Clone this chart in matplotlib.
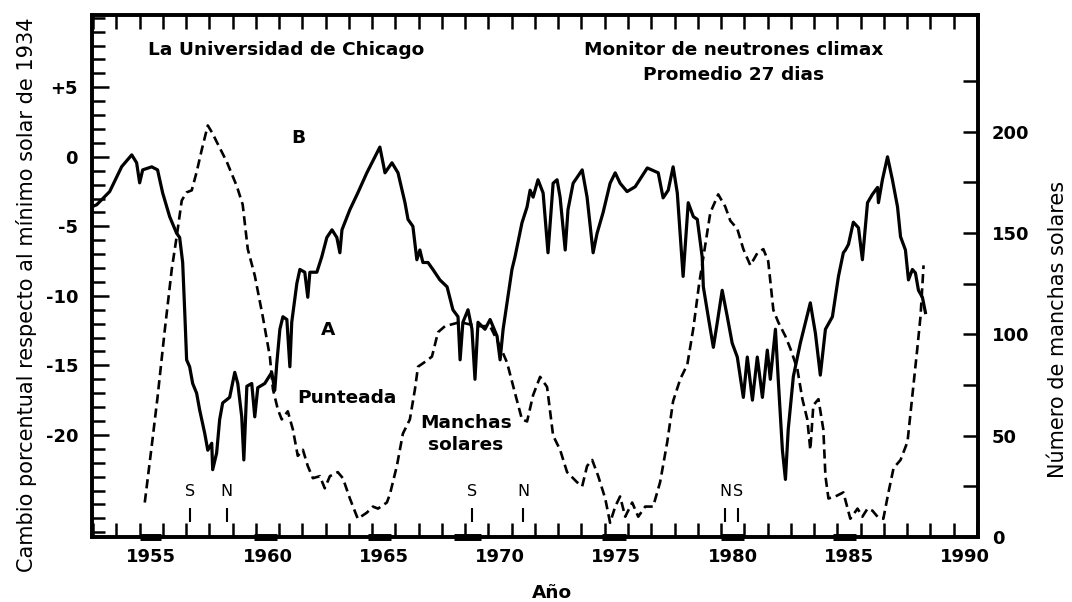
import matplotlib
matplotlib.use("Agg")
import matplotlib.pyplot as plt
import numpy as np

plt.rcParams['font.family'] = ['DejaVu Sans']

# Monitor de neutrones (curva A, eje izquierdo, %)
neutron_years = [1952.93, 1953.15, 1953.71, 1954.23, 1954.66, 1954.87, 1955.0, 1955.13, 1955.52, 1955.77,
                 1955.99, 1956.29, 1956.59, 1956.72, 1956.85, 1956.94, 1957.02, 1957.15, 1957.28, 1957.45,
                 1957.58, 1957.80, 1957.93, 1958.10, 1958.14, 1958.31, 1958.44, 1958.57, 1958.87, 1959.09,
                 1959.22, 1959.39, 1959.48, 1959.61, 1959.82, 1959.95, 1960.08, 1960.38, 1960.68, 1960.81,
                 1960.90, 1961.03, 1961.16, 1961.33, 1961.46, 1961.54, 1961.76, 1961.89, 1962.10, 1962.23,
                 1962.32, 1962.62, 1962.83, 1963.05, 1963.27, 1963.48, 1963.61, 1963.70, 1964.04, 1964.38,
                 1964.77, 1965.12, 1965.33, 1965.55, 1965.85, 1966.11, 1966.41, 1966.54, 1966.75, 1966.92,
                 1967.05, 1967.18, 1967.40, 1967.61, 1967.91, 1968.22, 1968.47, 1968.69, 1968.78, 1968.90,
                 1969.12, 1969.29, 1969.42, 1969.55, 1969.85, 1970.07, 1970.37, 1970.50, 1970.63, 1970.80,
                 1971.01, 1971.14, 1971.44, 1971.66, 1971.79, 1971.92, 1972.13, 1972.35, 1972.56, 1972.78,
                 1972.95, 1973.08, 1973.30, 1973.42, 1973.64, 1974.03, 1974.24, 1974.50, 1974.67, 1974.93,
                 1975.23, 1975.45, 1975.66, 1975.96, 1976.31, 1976.83, 1977.30, 1977.51, 1977.73, 1977.94,
                 1978.12, 1978.37, 1978.59, 1978.81, 1978.98, 1979.19, 1979.24, 1979.45, 1979.67, 1979.84,
                 1980.05, 1980.27, 1980.48, 1980.70, 1980.96, 1981.13, 1981.35, 1981.56, 1981.78, 1981.99,
                 1982.12, 1982.34, 1982.46, 1982.64, 1982.77, 1982.89, 1983.11, 1983.41, 1983.84, 1984.06,
                 1984.27, 1984.49, 1984.79, 1985.05, 1985.26, 1985.35, 1985.48, 1985.69, 1985.91, 1986.08,
                 1986.30, 1986.51, 1986.73, 1986.77, 1986.94, 1987.16, 1987.37, 1987.59, 1987.72, 1987.93,
                 1988.06, 1988.23, 1988.36, 1988.49, 1988.66, 1988.79]
neutron_pct = [-3.6, -3.45, -2.5, -0.7, 0.14, -0.43, -1.87, -0.94, -0.72, -0.94,
               -2.6, -4.3, -5.5, -5.8, -7.6, -11.2, -14.6, -15.1, -16.3, -17.0,
               -18.2, -19.9, -21.1, -20.6, -22.5, -21.3, -18.9, -17.7, -17.3, -15.5,
               -16.3, -18.7, -21.8, -16.5, -16.3, -18.7, -16.6, -16.3, -15.5, -16.8,
               -14.8, -12.4, -11.5, -11.7, -15.1, -11.9, -9.1, -8.1, -8.3, -10.1,
               -8.3, -8.3, -7.2, -5.8, -5.25, -5.8, -6.9, -5.25, -3.8, -2.6,
               -1.15, 0.0, 0.7, -1.15, -0.43, -1.15, -3.3, -4.5, -5.0, -7.4,
               -6.7, -7.6, -7.6, -8.1, -8.85, -9.35, -11.0, -11.5, -14.6, -11.9,
               -11.0, -12.4, -16.0, -11.9, -12.4, -11.7, -12.9, -14.6, -12.4, -10.5,
               -8.1, -7.2, -4.75, -3.6, -2.4, -2.9, -1.65, -2.6, -6.9, -1.9,
               -1.65, -2.9, -6.7, -3.8, -1.9, -0.94, -2.9, -6.9, -5.5, -4.0,
               -1.9, -1.15, -1.9, -2.5, -2.15, -0.8, -1.15, -2.95, -2.4, -0.72,
               -2.6, -8.6, -3.3, -4.3, -4.5, -7.2, -9.35, -11.5, -13.7, -11.9,
               -9.6, -11.5, -13.4, -14.4, -17.3, -14.4, -17.5, -14.4, -17.3, -13.9,
               -16.0, -12.4, -16.0, -21.1, -23.2, -19.6, -15.8, -13.4, -10.5, -12.7,
               -15.7, -12.4, -11.5, -8.6, -6.9, -6.7, -6.3, -4.7, -5.1, -7.4,
               -3.3, -2.7, -2.2, -3.3, -1.65, 0.0, -1.65, -3.6, -5.75, -6.7,
               -8.85, -8.1, -8.35, -9.6, -10.1, -11.2]

# Manchas solares (curva punteada, eje derecho)
sunspot_years = [1955.22, 1955.52, 1955.77, 1956.08, 1956.38, 1956.59, 1956.81, 1957.02, 1957.24, 1957.45,
                 1957.67, 1957.93, 1958.14, 1958.31, 1958.75, 1959.18, 1959.43, 1959.65, 1959.95, 1960.29,
                 1960.60, 1960.73, 1960.94, 1961.11, 1961.37, 1961.59, 1961.80, 1962.02, 1962.23, 1962.45,
                 1962.75, 1962.96, 1963.18, 1963.52, 1963.74, 1964.04, 1964.38, 1964.77, 1965.03, 1965.25,
                 1965.63, 1965.76, 1966.06, 1966.32, 1966.62, 1966.84, 1966.97, 1967.35, 1967.57, 1967.83,
                 1968.13, 1968.78, 1969.51, 1970.07, 1970.50, 1970.80, 1971.14, 1971.44, 1971.66, 1971.92,
                 1972.22, 1972.52, 1972.78, 1973.08, 1973.38, 1973.81, 1974.03, 1974.24, 1974.46, 1974.72,
                 1975.02, 1975.23, 1975.45, 1975.66, 1975.88, 1976.18, 1976.44, 1976.74, 1977.08, 1977.38,
                 1977.69, 1977.94, 1978.25, 1978.55, 1978.81, 1979.06, 1979.24, 1979.54, 1979.88, 1980.18,
                 1980.40, 1980.70, 1980.96, 1981.26, 1981.56, 1981.82, 1982.03, 1982.25, 1982.46, 1982.77,
                 1982.98, 1983.28, 1983.50, 1983.71, 1983.84, 1983.97, 1984.19, 1984.40, 1984.49, 1984.62,
                 1984.92, 1985.26, 1985.56, 1985.87, 1986.08, 1986.30, 1986.51, 1986.73, 1986.98, 1987.20,
                 1987.42, 1987.72, 1988.02, 1988.23, 1988.45, 1988.58, 1988.71]
sunspot_num = [17, 45, 69, 102, 132, 148, 166, 170, 171, 180,
               191, 203, 199, 195, 185, 173, 164, 142, 129, 109,
               89, 73, 63, 58, 62, 53, 40, 43, 35, 29,
               30, 24, 30, 32, 29, 19, 9, 12, 15, 14,
               17, 21, 35, 51, 58, 73, 84, 87, 89, 101,
               104, 106, 104, 104, 94, 86, 71, 58, 57, 70,
               79, 74, 50, 43, 32, 27, 25, 35, 38, 30,
               19, 7, 15, 20, 10, 17, 10, 15, 15, 27,
               47, 67, 78, 85, 103, 125, 138, 160, 169, 163,
               156, 152, 142, 134, 140, 142, 136, 112, 106, 99,
               93, 83, 68, 58, 43, 65, 68, 53, 30, 19,
               20, 22, 9, 14, 10, 14, 13, 10, 9, 22,
               34, 38, 47, 70, 94, 109, 134]

# inversiones de polaridad (S / N)
reversal_years = [1957.15, 1958.75, 1969.29, 1971.49, 1980.18, 1980.74]
reversal_labels = ['S', 'N', 'S', 'N', 'N', 'S']

# segmentos gruesos del eje inferior
thick_start = [1955.0, 1959.9, 1964.8, 1968.5, 1974.9, 1980.0, 1984.8]
thick_end = [1955.9, 1960.9, 1965.8, 1969.7, 1975.9, 1981.0, 1985.8]

year_labels = [1955, 1960, 1965, 1970, 1975, 1980, 1985, 1990]
left_ticks = [-20, -15, -10, -5, 0, 5]
left_labels = ['-20', '-15', '-10', '-5', '0', '+5']
right_ticks = [0, 50, 100, 150, 200]

fig = plt.figure(figsize=(10.72, 6.02), dpi=100)
ax = fig.add_axes([0.0858, 0.108, 0.8265, 0.8671])
ax2 = ax.twinx()

ax.plot(neutron_years, neutron_pct, color='black', lw=2.3, solid_joinstyle='round')
ax2.plot(sunspot_years, sunspot_num, color='black', lw=1.9, ls=(0, (3.5, 1.9)))

ax.set_xlim(1952.95, 1991.05)
ax.set_ylim(-27.34, 10.2)
ax2.set_ylim(0, 257.5)

tfont = dict(fontsize=13, fontweight='bold')

# eje x: marcas por año, etiquetas centradas en el año
ax.set_xticks(np.arange(1953, 1992))
ax.set_xticklabels([])
ax.set_xticks(np.array(year_labels) + 0.5, minor=True)
ax.set_xticklabels([str(y) for y in year_labels], minor=True, **tfont)
ax.tick_params(axis='x', which='major', direction='in', top=True, bottom=True,
               length=10, width=1.8)
ax.tick_params(axis='x', which='minor', length=0, pad=8, top=False)

# eje izquierdo
ax.set_yticks(left_ticks)
ax.set_yticklabels(left_labels, **tfont)
ax.set_yticks(np.arange(-27, 11), minor=True)
ax.tick_params(axis='y', which='major', direction='in', length=12, width=1.8, pad=10,
               right=False)
ax.tick_params(axis='y', which='minor', direction='in', length=9, width=1.8, right=False)

# eje derecho
ax2.set_yticks(right_ticks)
ax2.set_yticklabels([str(v) for v in right_ticks], **tfont)
ax2.set_yticks(np.arange(25, 250, 50), minor=True)
ax2.tick_params(axis='y', which='both', direction='in', length=11, width=1.8, pad=10)

for a in (ax, ax2):
    for s in a.spines.values():
        s.set_linewidth(2.6)

# tramos gruesos en el eje inferior
ax.hlines([0] * len(thick_start), thick_start, thick_end, transform=ax.get_xaxis_transform(),
          color='black', lw=5, clip_on=False)

# marcas de inversión
ax.vlines(reversal_years, 0.029, 0.056, transform=ax.get_xaxis_transform(), color='black', lw=1.5)
for yr, lab in zip(reversal_years, reversal_labels):
    ax.text(yr, 0.087, lab, transform=ax.get_xaxis_transform(), ha='center', va='center', fontsize=11.5)

lbl = dict(transform=ax.transAxes, ha='center', va='center', fontsize=13.3, fontweight='bold')
ax.text(0.0632, 0.933, "La Universidad de Chicago", transform=ax.transAxes,
        ha='left', va='center', fontsize=13.3, fontweight='bold')
ax.text(0.7246, 0.933, "Monitor de neutrones climax", **lbl)
ax.text(0.7246, 0.885, "Promedio 27 dias", **lbl)
ax.text(0.2325, 0.764, "B", **lbl)
ax.text(0.2664, 0.3966, "A", **lbl)
ax.text(0.2878, 0.2663, "Punteada", **lbl)
ax.text(0.4221, 0.2184, "Manchas", **lbl)
ax.text(0.4221, 0.1762, "solares", **lbl)

fig.text(0.515, 0.015, "Año", ha='center', va='center', fontsize=13.3, fontweight='bold')
fig.text(0.025, 0.51, "Cambio porcentual respecto al mínimo solar de 1934", rotation=90,
         ha='center', va='center', fontsize=15)
fig.text(0.987, 0.452, "Número de manchas solares", rotation=90,
         ha='center', va='center', fontsize=15)

fig.savefig("out.png", dpi=100)
